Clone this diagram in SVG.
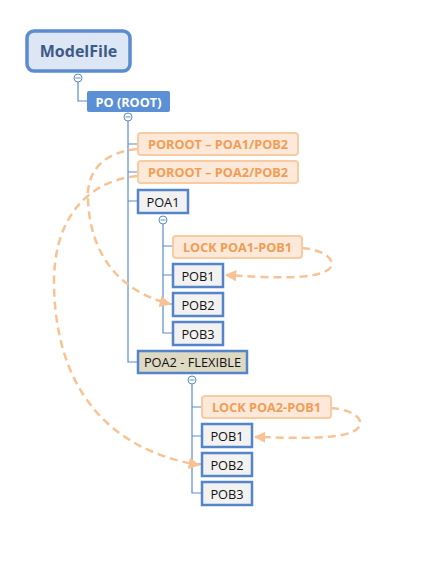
<svg xmlns="http://www.w3.org/2000/svg" width="421" height="562" viewBox="0 0 421 562">
<style>
text{font-family:"Open Sans","Noto Sans","Liberation Sans",sans-serif;dominant-baseline:central;text-anchor:middle}
.tree{fill:none;stroke:#5b8bd0;stroke-width:1.2}
.col{fill:#fff;stroke:#5b8bd0;stroke-width:1}
.colm{stroke:#5b8bd0;stroke-width:1}
.orb{fill:#fde9d9;stroke:#f8cba2;stroke-width:2}
.ort{fill:#f29d55;font-weight:bold;font-size:12.7px}
.bl{fill:#f2f2f2;stroke:#5585c8;stroke-width:2.5}
.blt{fill:#111;font-size:12.8px}
.dash{fill:none;stroke:#f8c394;stroke-width:2.5;stroke-dasharray:8 5}
</style>
<defs>
<marker id="ah" viewBox="0 0 10 10" refX="9" refY="5" markerWidth="4.6" markerHeight="4.6" orient="auto" markerUnits="strokeWidth">
<path d="M0,0 L10,5 L0,10 z" fill="#f8c394"/>
</marker>
</defs>
<g id="connectors">
<path class="tree" d="M78,82 V101 H87"/>
<path class="tree" d="M128,121 V362 H137 M128,144 H137 M128,172 H137 M128,201 H137"/>
<path class="tree" d="M163,224 V333 H172 M163,246 H172 M163,275 H172 M163,304 H172"/>
<path class="tree" d="M192,384 V493 H201 M192,407 H201 M192,436 H201 M192,464 H201"/>
<path class="dash" d="M137,149 C105,152 86,170 88,200 C90,250 115,290 170,304" marker-end="url(#ah)"/>
<path class="dash" d="M137,176 C95,180 55,210 54,280 C54,390 110,450 199,465" marker-end="url(#ah)"/>
<path class="dash" d="M302,248 C325,250 336,260 330,268 C320,280 270,278 226,275" marker-end="url(#ah)"/>
<path class="dash" d="M331,408 C355,410 365,420 358,428 C348,440 300,438 255,437" marker-end="url(#ah)"/>
</g>
<g id="n-modelfile">
<rect x="27" y="31" width="103" height="40" rx="7" fill="#dce6f4" stroke="#5b8bd0" stroke-width="3.5"/>
<text x="78.5" y="51" font-size="16" font-weight="bold" fill="#3c5a87">ModelFile</text>
<circle class="col" cx="78" cy="78" r="4"/><path class="colm" d="M75.5,78 H80.5"/>
</g>
<g id="n-po-root">
<rect x="87" y="91" width="83" height="21" rx="2" fill="#5b8fd6"/>
<text x="128.5" y="101.5" font-size="12.7" font-weight="bold" fill="#fff">PO (ROOT)</text>
<circle class="col" cx="128" cy="117" r="4"/><path class="colm" d="M125.5,117 H130.5"/>
</g>
<g id="n-poroot-1">
<rect class="orb" x="138" y="133" width="160" height="22" rx="3"/>
<text class="ort" x="218" y="144">POROOT – POA1/POB2</text>
</g>
<g id="n-poroot-2">
<rect class="orb" x="138" y="161" width="160" height="22" rx="3"/>
<text class="ort" x="218" y="172">POROOT – POA2/POB2</text>
</g>
<g id="n-poa1">
<rect class="bl" x="138" y="190" width="50" height="23"/>
<text class="blt" x="163" y="201.5">POA1</text>
<circle class="col" cx="163" cy="220" r="4"/><path class="colm" d="M160.5,220 H165.5"/>
</g>
<g id="n-lock1">
<rect class="orb" x="173" y="236" width="129" height="22" rx="3"/>
<text class="ort" x="237.5" y="247">LOCK POA1-POB1</text>
</g>
<g id="n-poa1-pob1">
<rect class="bl" x="173" y="264" width="50" height="23"/>
<text class="blt" x="198" y="275.5">POB1</text>
</g>
<g id="n-poa1-pob2">
<rect class="bl" x="173" y="293" width="50" height="23"/>
<text class="blt" x="198" y="304.5">POB2</text>
</g>
<g id="n-poa1-pob3">
<rect class="bl" x="173" y="322" width="50" height="23"/>
<text class="blt" x="198" y="333.5">POB3</text>
</g>
<g id="n-poa2">
<rect x="138" y="351" width="109" height="22" fill="#ddd9c3" stroke="#5585c8" stroke-width="2.5"/>
<text class="blt" x="192.5" y="362">POA2 - FLEXIBLE</text>
<circle class="col" cx="192" cy="380" r="4"/><path class="colm" d="M189.5,380 H194.5"/>
</g>
<g id="n-lock2">
<rect class="orb" x="202" y="396" width="129" height="22" rx="3"/>
<text class="ort" x="266.5" y="407">LOCK POA2-POB1</text>
</g>
<g id="n-poa2-pob1">
<rect class="bl" x="202" y="424" width="50" height="23"/>
<text class="blt" x="227" y="435.5">POB1</text>
</g>
<g id="n-poa2-pob2">
<rect class="bl" x="202" y="453" width="50" height="23"/>
<text class="blt" x="227" y="464.5">POB2</text>
</g>
<g id="n-poa2-pob3">
<rect class="bl" x="202" y="482" width="50" height="23"/>
<text class="blt" x="227" y="493.5">POB3</text>
</g>
</svg>
